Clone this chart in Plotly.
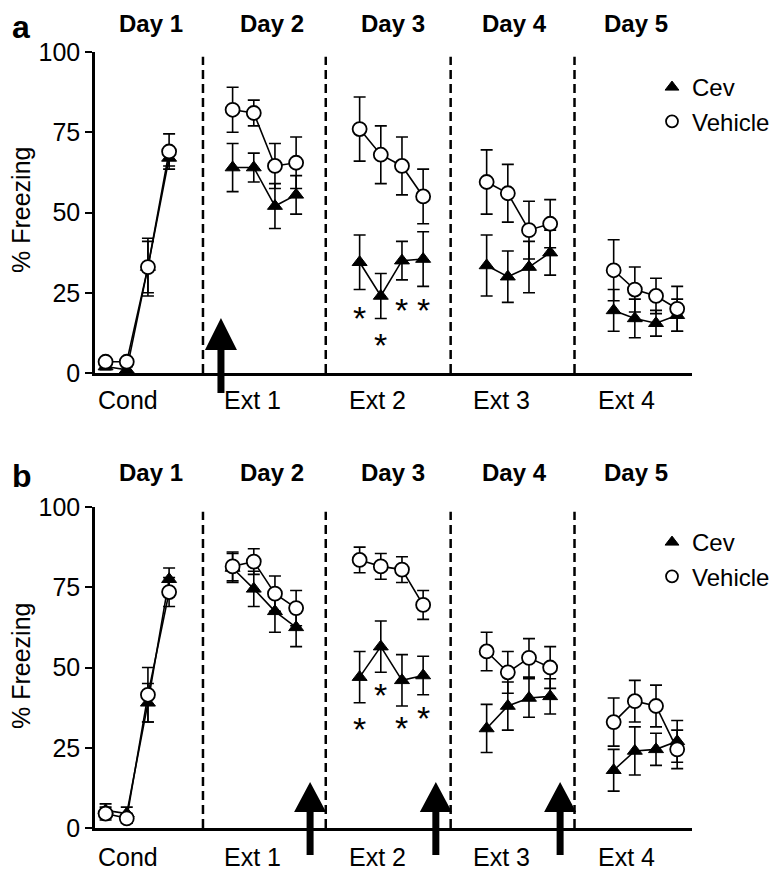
import plotly.graph_objects as go

# page body adds an 8px margin; the figure is shrunk so that it fills the window
OFF = 8
WIN_W, WIN_H = 782, 870
W, H = WIN_W - OFF, WIN_H - OFF

# ---------------- data ----------------
day_labels = ["Day 1", "Day 2", "Day 3", "Day 4", "Day 5"]
session_labels = ["Cond", "Ext 1", "Ext 2", "Ext 3", "Ext 4"]
series_names = ["Cev", "Vehicle"]
y_ticks = [0, 25, 50, 75, 100]

# Panel a (% freezing, 4 trials per session)
cev_a = [2, 1, 33, 67, 64, 64, 52, 55.5, 34.5, 24, 35, 35.5, 33.5, 30, 33, 37.5, 19.5, 17, 15.5, 18]
cev_a_err = [1, 1, 8, 2.5, 7.5, 4.5, 7, 6, 8.5, 7, 6, 8.5, 9.5, 8, 8, 7, 6.5, 6, 4, 5]
veh_a = [3.5, 3.5, 33, 69, 82, 81, 64.5, 65.5, 76, 68, 64.5, 55, 59.5, 56, 44.5, 46.5, 32, 26, 24, 20]
veh_a_err = [1, 1, 9, 5.5, 7, 4, 7, 8, 10, 9, 9, 8.5, 10, 9, 9, 7.5, 9.5, 7, 5.5, 7]

# Panel b
cev_b = [5.5, 4.5, 39, 77.5, 81, 74.5, 67.5, 62.5, 47, 56.5, 46, 47.5, 31, 38, 40.5, 41, 18, 24, 24.5, 27]
cev_b_err = [2, 2, 6, 3.5, 4.5, 5.5, 6.5, 6, 8, 8, 8, 6, 7.5, 7.5, 6, 5.5, 6.5, 7.5, 5, 6.5]
veh_b = [4.5, 3, 41.5, 73.5, 81.5, 83, 73, 68.5, 83.5, 81.5, 80.5, 69.5, 55, 48.5, 53, 50, 33, 39.5, 38, 24.5]
veh_b_err = [2, 1.5, 8.5, 4.5, 4.5, 4, 5.5, 5.5, 4, 4, 4, 4.5, 6, 6.5, 6, 6.5, 7.5, 6.5, 6.5, 6]

# significance asterisks (session index, y position per trial)
sig_a_session = 2
sig_a_y = [19.6, 11.2, 22.2, 22.2]
sig_b_session = 2
sig_b_y = [33.3, 44, 33.6, 36.8]

# drug-injection arrows: x position in trial units
arrow_a_x = [5.45]
arrow_b_x = [9.66, 15.6, 21.47]

# session boundaries (trial units)
boundaries = [4.6, 10.4, 16.3, 22.15]

TRIALS = 4
GAP = 6  # x units between session starts

# --------------- layout helpers (reference pixel -> paper) ---------------
FONT = "Liberation Sans, Arial, sans-serif"
X_RANGE = [-0.5, 27.7]
UNIT_PX = 597 / (X_RANGE[1] - X_RANGE[0])


def xp(px):
    return (px - OFF) / W


def yp(px):
    return 1 - (px - OFF) / H


X_DOMAIN = [xp(95), xp(692)]

panels = [
    dict(cev=cev_a, cev_err=cev_a_err, veh=veh_a, veh_err=veh_a_err,
         xa="x", ya="y", letter="a", letter_y=26.5,
         sig_s=sig_a_session, sig_y=sig_a_y, arrows=arrow_a_x,
         arrow_tip=318, arrow_base=350, arrow_bot=393, legend="legend",
         day_y=23, lab_y=400, ytitle_y=210, legend_top=65),
    dict(cev=cev_b, cev_err=cev_b_err, veh=veh_b, veh_err=veh_b_err,
         xa="x2", ya="y2", letter="b", letter_y=476,
         sig_s=sig_b_session, sig_y=sig_b_y, arrows=arrow_b_x,
         arrow_tip=782, arrow_base=812, arrow_bot=855, legend="legend2",
         day_y=473, lab_y=857, ytitle_y=666, legend_top=520),
]

fig = go.Figure()
shapes = []
annotations = []

cev_marker = dict(symbol="triangle-up", size=13, color="black", line=dict(color="black", width=1))
veh_marker = dict(symbol="circle", size=14, color="white", line=dict(color="black", width=1.8))
err_style = dict(type="data", visible=True, color="black", thickness=1.6, width=6)

for p in panels:
    for vals, errs, marker in ((p["cev"], p["cev_err"], cev_marker), (p["veh"], p["veh_err"], veh_marker)):
        for s in range(len(session_labels)):
            xs = [s * GAP + t for t in range(TRIALS)]
            ys = vals[s * TRIALS:(s + 1) * TRIALS]
            es = errs[s * TRIALS:(s + 1) * TRIALS]
            fig.add_trace(go.Scatter(
                x=xs, y=ys, mode="lines+markers", xaxis=p["xa"], yaxis=p["ya"],
                line=dict(color="black", width=1.6), marker=marker,
                error_y=dict(array=es, **err_style),
                showlegend=False, cliponaxis=False, hoverinfo="skip"))
    # legend entries
    for name, marker in zip(series_names, (cev_marker, veh_marker)):
        m = dict(marker)
        m["size"] = 12
        fig.add_trace(go.Scatter(x=[None], y=[None], mode="markers", marker=m, name=name,
                                 xaxis=p["xa"], yaxis=p["ya"], legend=p["legend"], showlegend=True))

    xref = p["xa"]
    yref = p["ya"]
    # dashed session boundaries
    for b in boundaries:
        shapes.append(dict(type="line", xref=xref, yref=yref, x0=b, x1=b, y0=0, y1=98.5,
                           line=dict(color="black", width=2.5, dash="9px,5px")))
    # arrows
    hw = 16 / UNIT_PX
    sw = 3.5 / UNIT_PX
    for ax in p["arrows"]:
        tip, base, bot = yp(p["arrow_tip"]), yp(p["arrow_base"]), yp(p["arrow_bot"])
        path = (f"M {ax - sw},{bot} L {ax - sw},{base} L {ax - hw},{base} L {ax},{tip} "
                f"L {ax + hw},{base} L {ax + sw},{base} L {ax + sw},{bot} Z")
        shapes.append(dict(type="path", xref=xref, yref="paper", path=path,
                           fillcolor="black", line=dict(color="black", width=0)))
    # asterisks
    for t, yv in enumerate(p["sig_y"]):
        annotations.append(dict(x=p["sig_s"] * GAP + t, y=yv, xref=xref, yref=yref, text="*",
                                showarrow=False, yshift=-8,
                                font=dict(family=FONT, size=34, color="black")))
    # day labels (top)
    for i, d in enumerate(day_labels):
        annotations.append(dict(x=xp(151 + 121.2 * i), y=yp(p["day_y"]), xref="paper", yref="paper",
                                text=f"<b>{d}</b>", showarrow=False, xanchor="center", yanchor="middle",
                                font=dict(family=FONT, size=24, color="black")))
    # session labels (bottom)
    for i, lab in enumerate(session_labels):
        annotations.append(dict(x=xp(128 + 124.6 * i), y=yp(p["lab_y"]), xref="paper", yref="paper",
                                text=lab, showarrow=False, xanchor="center", yanchor="middle",
                                font=dict(family=FONT, size=25, color="black")))
    # panel letter
    annotations.append(dict(x=xp(10), y=yp(p["letter_y"]), xref="paper", yref="paper",
                            text=f"<b>{p['letter']}</b>", showarrow=False, xanchor="left", yanchor="middle",
                            font=dict(family=FONT, size=32, color="black")))
    # y title
    annotations.append(dict(x=xp(21), y=yp(p["ytitle_y"]), xref="paper", yref="paper",
                            text="% Freezing", textangle=-90, showarrow=False,
                            xanchor="center", yanchor="middle",
                            font=dict(family=FONT, size=25, color="black")))

axis_common_x = dict(range=X_RANGE, domain=X_DOMAIN, showgrid=False, zeroline=False, automargin=False,
                     showline=True, linecolor="black", linewidth=2.5, showticklabels=False, ticks="")
axis_common_y = dict(range=[0, 100], tickvals=y_ticks, ticktext=[str(v) for v in y_ticks],
                     showgrid=False, zeroline=False, showline=True, linecolor="black", linewidth=2.5,
                     automargin=False,
                     ticks="outside", ticklen=7, tickwidth=2.2, tickcolor="black",
                     tickfont=dict(family=FONT, size=25, color="black"))

legend_common = dict(font=dict(family=FONT, size=24, color="black"), bgcolor="rgba(0,0,0,0)",
                     xanchor="left", yanchor="top", x=xp(652), itemwidth=30,
                     tracegroupgap=0)

fig.update_layout(
    width=W, height=H,
    margin=dict(l=0, r=0, t=0, b=0, pad=0, autoexpand=False),
    paper_bgcolor="white", plot_bgcolor="white",
    xaxis=dict(anchor="y", **axis_common_x),
    yaxis=dict(anchor="x", domain=[yp(373), yp(52)], **axis_common_y),
    xaxis2=dict(anchor="y2", **axis_common_x),
    yaxis2=dict(anchor="x2", domain=[yp(828), yp(507)], **axis_common_y),
    legend=dict(y=yp(panels[0]["legend_top"]), **legend_common),
    legend2=dict(y=yp(panels[1]["legend_top"]), **legend_common),
    shapes=shapes,
    annotations=annotations,
    showlegend=True,
)

fig.write_html("out.html")
